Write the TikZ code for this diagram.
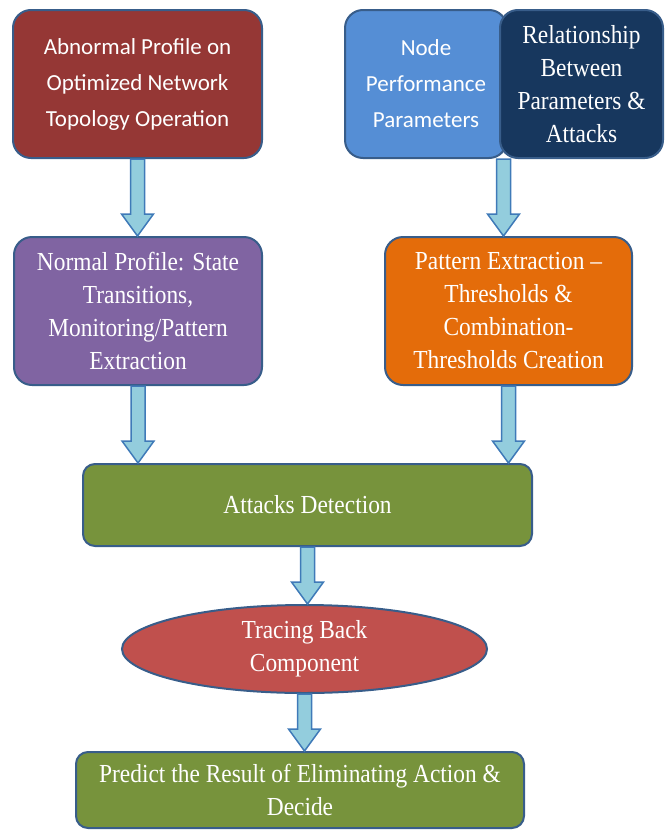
\documentclass[tikz,border=0pt]{standalone}
\usepackage{fontspec}
\newfontfamily\calibrilike{Carlito}
\newfontfamily\timeslike[FakeStretch=0.9,Ligatures=TeX]{Liberation Serif}
\usetikzlibrary{shapes.geometric,calc}

\definecolor{edgeblue}{HTML}{385D8A}
\definecolor{abnred}{HTML}{953735}
\definecolor{perfblue}{HTML}{558ED5}
\definecolor{relnavy}{HTML}{17375E}
\definecolor{normpurple}{HTML}{8064A2}
\definecolor{pattorange}{HTML}{E46C0A}
\definecolor{detgreen}{HTML}{77933C}
\definecolor{tracered}{HTML}{C0504D}
\definecolor{arrowfill}{HTML}{93CDDD}
\definecolor{arrowedge}{HTML}{3F7AB8}

\tikzset{
  box/.style={draw=edgeblue, line width=2pt, rounded corners=18pt, text=white, align=center, inner sep=0pt},
  sanstext/.style={font=\calibrilike\fontsize{23}{36}\selectfont},
  seriftext/.style={font=\timeslike\fontsize{26}{33}\selectfont},
  arrowbody/.style={draw=arrowedge, fill=arrowfill, line width=1.5pt, line join=miter},
}

% block arrow: x from the first point, tip at the y of the second
\newcommand{\flowarrow}[2]{%
  \draw[arrowbody] let \p1=(#1), \p2=(#2) in
    (\x1-7pt,\y1) -- (\x1-7pt,\y2+22pt) -- (\x1-16pt,\y2+22pt) -- (\x1,\y2)
    -- (\x1+16pt,\y2+22pt) -- (\x1+7pt,\y2+22pt) -- (\x1+7pt,\y1) -- cycle;}

\begin{document}
\begin{tikzpicture}[x=1pt,y=1pt]
        \useasboundingbox (0,0) rectangle (668,-830);

        \node (abn)[box, sanstext, fill=abnred, minimum width=249pt, minimum height=148pt] at (137.5,-84) {Abnormal Profile on\\Optimized Network\\Topology Operation};
        \node (perf)[box, sanstext, fill=perfblue, minimum width=162pt, minimum height=148pt] at (426,-84) {Node\\Performance\\Parameters};
        \node (rel)[box, seriftext, fill=relnavy, minimum width=163pt, minimum height=148pt] at (581.5,-84) {Relationship\\Between\\Parameters \&\\Attacks};

        \node (norm)[box, seriftext, fill=normpurple, minimum width=248pt, minimum height=148pt] at (138,-311) {Normal Profile: State\\Transitions,\\Monitoring/Pattern\\Extraction};
        \node (patt)[box, seriftext, fill=pattorange, minimum width=247pt, minimum height=148pt] at (508.5,-311) {Pattern Extraction --\\Thresholds \&\\Combination-\\Thresholds Creation};

        \node (det)[box, seriftext, fill=detgreen, rounded corners=12pt, minimum width=449pt, minimum height=82pt] at (307.5,-505) {Attacks Detection};
        \node (trace)[draw=edgeblue, line width=2pt, ellipse, seriftext, fill=tracered, text=white, align=center, inner sep=0pt, minimum width=365pt, minimum height=88pt] at (304.5,-649) {Tracing Back\\Component};
        \node (pred)[box, seriftext, fill=detgreen, rounded corners=12pt, minimum width=448pt, minimum height=76pt] at (300,-790) {Predict the Result of Eliminating Action \&\\Decide};

        \coordinate (split) at ($(perf.south east)!0.5!(rel.south west)$);

        \flowarrow{abn.south}{norm.north}
        \flowarrow{split}{patt.north}
        \flowarrow{norm.south}{det.north}
        \flowarrow{patt.south}{det.north}
        \flowarrow{det.south}{trace.north}
        \flowarrow{trace.south}{pred.north}

    \end{tikzpicture}
\end{document}
